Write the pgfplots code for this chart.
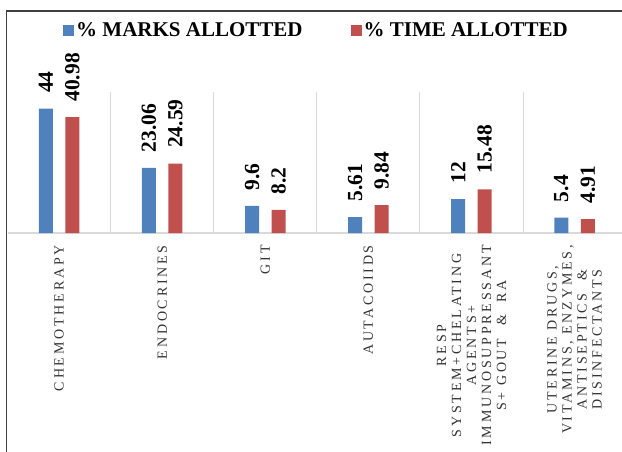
\documentclass[border=0pt]{standalone}
\usepackage{fontspec}
\setmainfont{Liberation Serif}
\newfontfamily\tickfont[LetterSpace=20]{Liberation Serif}
\usepackage{pgfplots}
\pgfplotsset{compat=1.18}
\definecolor{mblue}{HTML}{4F81BD}
\definecolor{tred}{HTML}{C0504D}
\definecolor{sepgray}{HTML}{D9D9D9}

\begin{document}
\begin{tikzpicture}
\useasboundingbox (0,0) rectangle (622pt,-451pt);
\begin{axis}[
  at={(7.6pt,-233pt)}, anchor=south west,
  scale only axis, width=618.5pt, height=141.3pt,
  ybar=12.5pt, bar width=14pt,
  xmin=-0.5, xmax=5.5, ymin=0, ymax=50,
  axis line style={draw=none},
  major tick length=0pt,
  ytick={0}, yticklabels={},
  ymajorgrids, y grid style={draw=sepgray, line width=1.3pt},
  xtick={0,1,2,3,4,5},
  xticklabels={CHEMOTHERAPY, ENDOCRINES, GIT, AUTACOIIDS,
    {RESP\\SYSTEM+CHELATING\\AGENTS+\\IMMUNOSUPPRESSANT\\S+ GOUT\ \ \&\ \ RA},
    {UTERINE DRUGS,\\VITAMINS, ENZYMES,\\ANTISEPTICS\ \ \&\\DISINFECTANTS}},
  xticklabel style={rotate=90, anchor=east, align=center, inner sep=0pt,
    font=\tickfont\fontsize{14}{15}\selectfont, text=black!80},
  xticklabel shift=12pt,
  extra x ticks={0.5,1.5,2.5,3.5,4.5,5.5},
  extra x tick labels={},
  extra x tick style={grid=major, x grid style={draw=sepgray, line width=1pt}},
  nodes near coords={\pgfmathprintnumber[assume math mode=true]{\pgfplotspointmeta}},
  nodes near coords style={rotate=90, anchor=west, inner xsep=15.5pt, inner ysep=0pt,
    font=\bfseries\fontsize{21.5}{24}\selectfont, text=black},
  legend columns=2,
  legend style={at={(0.0896,1.4317)}, anchor=west, draw=none, fill=none,
    inner sep=0pt, font=\bfseries\fontsize{21}{24}\selectfont,
    /tikz/every even column/.append style={column sep=46pt}},
  legend image code/.code={\fill[#1,draw=none] (0pt,-5.5pt) rectangle (11pt,5.5pt);},
]
\addplot[fill=mblue, draw=none] coordinates {(0,44) (1,23.06) (2,9.6) (3,5.61) (4,12) (5,5.4)};
\addlegendentry{\% MARKS ALLOTTED}
\addplot[fill=tred, draw=none] coordinates {(0,40.98) (1,24.59) (2,8.2) (3,9.84) (4,15.48) (5,4.91)};
\addlegendentry{\% TIME ALLOTTED}
\end{axis}
\draw[black!75, line width=1.3pt] (6.7pt,-900pt) |- (900pt,-11pt);
\end{tikzpicture}
\end{document}
